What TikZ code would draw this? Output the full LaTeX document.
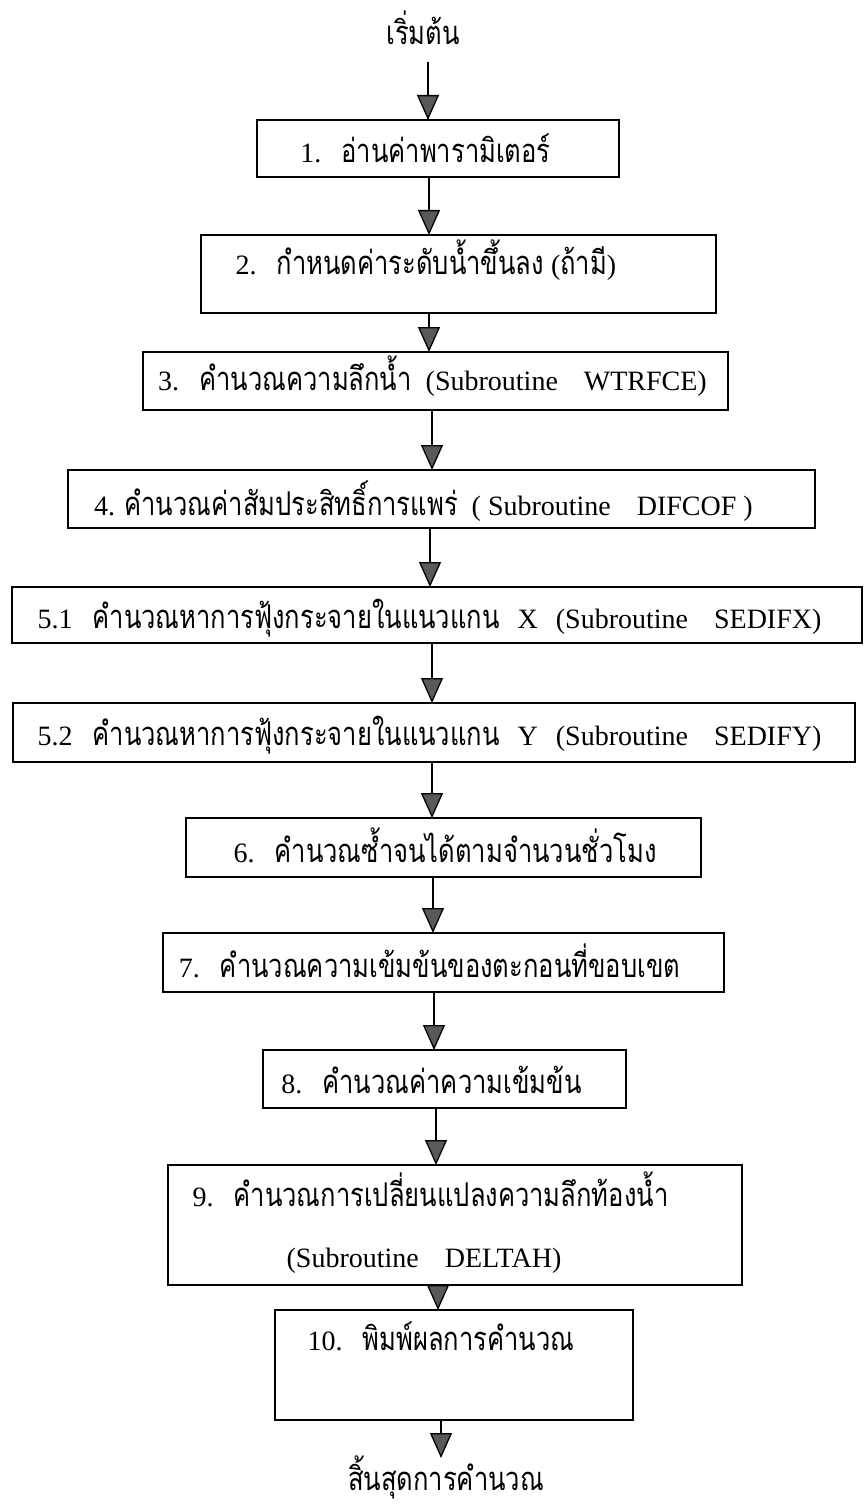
\documentclass[tikz,border=0pt]{standalone}
\usepackage{fontspec}
\setmainfont{Liberation Serif}
\newfontfamily\thai[Script=Thai,Scale=1.17,FakeStretch=0.78]{Loma}
\usetikzlibrary{arrows.meta}
\newcommand\tht[1]{{\thai #1}}
\newcommand\gap[1]{\hspace{#1pt}}
\tikzset{
  box/.style={draw, rectangle, line width=1.8pt, inner sep=0pt, outer sep=0pt},
  txt/.style={inner sep=0pt, outer sep=0pt, anchor=base, font=\fontsize{28}{33}\selectfont},
  arr/.style={line width=1.3pt, -{Triangle[width=22pt,length=25pt,fill=black!65]}},
}
\begin{document}
\begin{tikzpicture}[x=1pt,y=-1pt]
\useasboundingbox (0,0) rectangle (864,1506);
\fill[white] (0,0) rectangle (864,1506);
% boxes
\node[box, minimum width=362pt, minimum height=57pt] (b1) at (438,148.5) {};
\node[box, minimum width=515pt, minimum height=78pt] (b2) at (458.5,274) {};
\node[box, minimum width=585pt, minimum height=58pt] (b3) at (435.5,381) {};
\node[box, minimum width=747pt, minimum height=58pt] (b4) at (441.5,499) {};
\node[box, minimum width=850pt, minimum height=56pt] (b51) at (437,615) {};
\node[box, minimum width=842pt, minimum height=59pt] (b52) at (434,732.5) {};
\node[box, minimum width=515pt, minimum height=59pt] (b6) at (443.5,847.5) {};
\node[box, minimum width=561pt, minimum height=59pt] (b7) at (443.5,962.5) {};
\node[box, minimum width=363pt, minimum height=58pt] (b8) at (444.5,1079) {};
\node[box, minimum width=574pt, minimum height=120pt] (b9) at (455,1225) {};
\node[box, minimum width=358pt, minimum height=110pt] (b10) at (454,1365) {};
% texts
\node[txt, text depth=17pt] (st) at (423,45) {\tht{เริ่มต้น}};
\node[txt] (t1) at (425.5,163) {1.\gap{20}\tht{อ่านค่าพารามิเตอร์}};
\node[txt] (t2) at (426,274) {2.\gap{20}\tht{กำหนดค่าระดับน้ำขึ้นลง} (\tht{ถ้ามี})};
\node[txt] (t3) at (432.5,390) {3.\gap{20}\tht{คำนวณความลึกน้ำ}\gap{14}(Subroutine\gap{26}WTRFCE)};
\node[txt] (t4) at (423.5,515) {4. \tht{คำนวณค่าสัมประสิทธิ์การแพร่}\gap{14}( Subroutine\gap{26}DIFCOF )};
\node[txt] (t51) at (429.5,628) {5.1\gap{20}\tht{คำนวณหาการฟุ้งกระจายในแนวแกน}\gap{18}X\gap{18}(Subroutine\gap{26}SEDIFX)};
\node[txt] (t52) at (429.5,745) {5.2\gap{20}\tht{คำนวณหาการฟุ้งกระจายในแนวแกน}\gap{18}Y\gap{18}(Subroutine\gap{26}SEDIFY)};
\node[txt] (t6) at (445,862) {6.\gap{20}\tht{คำนวณซ้ำจนได้ตามจำนวนชั่วโมง}};
\node[txt] (t7) at (429.5,977) {7.\gap{20}\tht{คำนวณความเข้มข้นของตะกอนที่ขอบเขต}};
\node[txt] (t8) at (431.5,1093) {8.\gap{20}\tht{คำนวณค่าความเข้มข้น}};
\node[txt] (t9a) at (430.5,1206) {9.\gap{20}\tht{คำนวณการเปลี่ยนแปลงความลึกท้องน้ำ}};
\node[txt] (t9b) at (424,1267) {(Subroutine\gap{26}DELTAH)};
\node[txt] (t10) at (441,1350) {10.\gap{20}\tht{พิมพ์ผลการคำนวณ}};
\node[txt, text height=32pt] (en) at (446,1490) {\tht{สิ้นสุดการคำนวณ}};
% arrow x positions
\coordinate (x0) at (428,0);
\coordinate (x1) at (429,0);
\coordinate (x2) at (429,0);
\coordinate (x3) at (432,0);
\coordinate (x4) at (430,0);
\coordinate (x5) at (432,0);
\coordinate (x6) at (432,0);
\coordinate (x7) at (433,0);
\coordinate (x8) at (434,0);
\coordinate (x9) at (436,0);
\coordinate (x10) at (438,0);
\coordinate (x11) at (441,0);
% connectors
\draw[arr] (st.south -| x0) -- (b1.north -| x0);
\draw[arr] (b1.south -| x1) -- (b2.north -| x1);
\draw[arr] (b2.south -| x2) -- (b3.north -| x2);
\draw[arr] (b3.south -| x3) -- (b4.north -| x3);
\draw[arr] (b4.south -| x4) -- (b51.north -| x4);
\draw[arr] (b51.south -| x5) -- (b52.north -| x5);
\draw[arr] (b52.south -| x6) -- (b6.north -| x6);
\draw[arr] (b6.south -| x7) -- (b7.north -| x7);
\draw[arr] (b7.south -| x8) -- (b8.north -| x8);
\draw[arr] (b8.south -| x9) -- (b9.north -| x9);
\draw[arr] (b9.south -| x10) -- (b10.north -| x10);
\draw[arr] (b10.south -| x11) -- (en.north -| x11);
\end{tikzpicture}
\end{document}
